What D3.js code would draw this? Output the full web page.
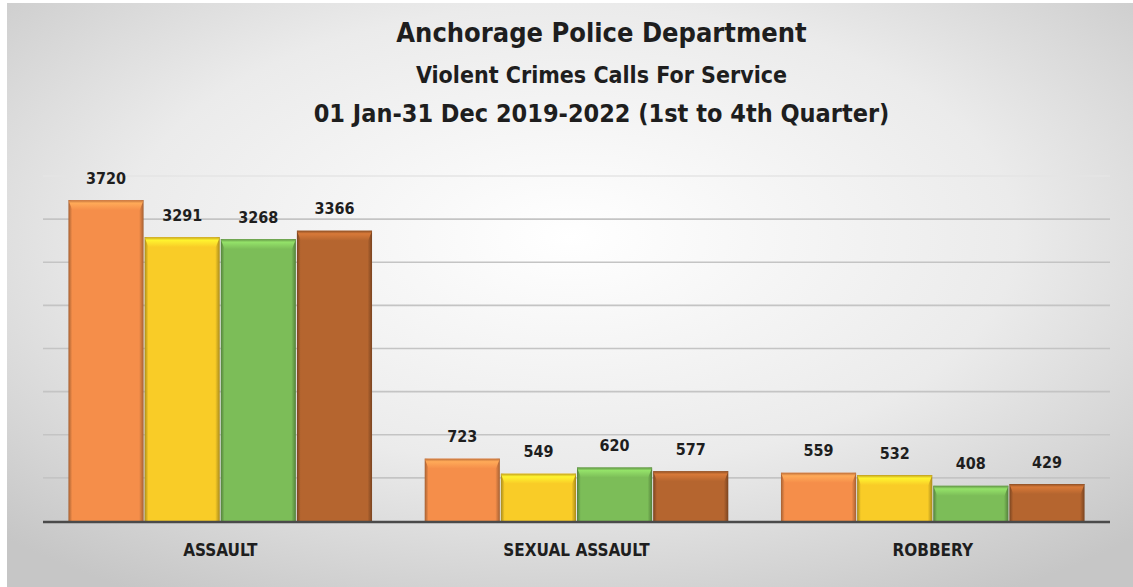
<!DOCTYPE html>
<html>
<head>
<meta charset="utf-8">
<script src="https://cdn.jsdelivr.net/npm/d3@7"></script>
<style>
  html, body { margin: 0; padding: 0; background: #fff; }
  svg { display: block; }
  text { font-family: 'Liberation Sans Narrow', 'Arial Narrow', 'DejaVu Sans Condensed', sans-serif; font-weight: bold; fill: #1e1e1e; }
</style>
</head>
<body>
<div id="chart"></div>
<script>

const categories = ['ASSAULT', 'SEXUAL ASSAULT', 'ROBBERY'];
const years = ['2019', '2020', '2021', '2022'];
const values = {
  'ASSAULT':        [3720, 3291, 3268, 3366],
  'SEXUAL ASSAULT': [723, 549, 620, 577],
  'ROBBERY':        [559, 532, 408, 429]
};
const titleLines = [
  'Anchorage Police Department',
  'Violent Crimes Calls For Service',
  '01 Jan-31 Dec 2019-2022 (1st to 4th Quarter)'
];
const yTicks = [500, 1000, 1500, 2000, 2500, 3000, 3500, 4000];
const colors = ['#f58e4a', '#f9cc27', '#7cbd58', '#b5652f'];

const W = 1133,
      H = 587;

const M = { top: 176, right: 23, bottom: 66, left: 43 };

const svg = d3.select('#chart').append('svg')
  .attr('width', W)
  .attr('height', H);

const defs = svg.append('defs');

// background - light in the middle, grey to the edges
const bg = defs.append('radialGradient')
  .attr('id', 'bg')
  .attr('cx', '50%').attr('cy', '40%').attr('r', '72%');
bg.append('stop').attr('offset', '0%').attr('stop-color', '#ffffff');
bg.append('stop').attr('offset', '55%').attr('stop-color', '#ebebeb');
bg.append('stop').attr('offset', '100%').attr('stop-color', '#c6c6c6');

svg.append('rect')
  .attr('x', 7).attr('y', 3)
  .attr('width', W - 7).attr('height', H - 3)
  .attr('fill', 'url(#bg)');

// bevel gradients per series
colors.forEach((c, i) => {
  const g = defs.append('linearGradient')
    .attr('id', `side-${i}`)
    .attr('x1', 0).attr('x2', 1).attr('y1', 0).attr('y2', 0);
  const dark = d3.color(c).darker(1.1);
  g.append('stop').attr('offset', '0%').attr('stop-color', dark);
  g.append('stop').attr('offset', '5%').attr('stop-color', c);
  g.append('stop').attr('offset', '94%').attr('stop-color', c);
  g.append('stop').attr('offset', '100%').attr('stop-color', dark);

  const t = defs.append('linearGradient')
    .attr('id', `top-${i}`)
    .attr('x1', 0).attr('x2', 0).attr('y1', 0).attr('y2', 1);
  t.append('stop').attr('offset', '0%').attr('stop-color', d3.color(c).darker(0.7));
  t.append('stop').attr('offset', '30%').attr('stop-color', d3.color(c).brighter(0.5));
  t.append('stop').attr('offset', '100%').attr('stop-color', c);
});

// titles
const titleY = [33, 75, 113],
      titleSize = [27, 23, 25];

svg.selectAll('.title')
  .data(titleLines)
  .enter().append('text')
    .attr('class', 'title')
    .attr('x', W / 2 + 35)
    .attr('y', (d, i) => titleY[i])
    .attr('dy', '0.35em')
    .attr('text-anchor', 'middle')
    .style('font-size', (d, i) => `${titleSize[i]}px`)
    .text((d) => d);

const x0 = d3.scaleBand()
  .domain(categories)
  .range([M.left, W - M.right])
  .paddingInner(0.145)
  .paddingOuter(0.07);

const x1 = d3.scaleBand()
  .domain(years)
  .range([0, x0.bandwidth()]);

const y = d3.scaleLinear()
  .domain([0, 4000])
  .range([H - M.bottom, M.top]);

// gridlines
svg.append('g')
  .selectAll('line')
  .data(yTicks)
  .enter().append('line')
    .attr('x1', M.left)
    .attr('x2', W - M.right)
    .attr('y1', (d) => y(d))
    .attr('y2', (d) => y(d))
    .attr('stroke', (d) => d === 4000 ? '#e4e4e4' : '#c4c4c4')
    .attr('stroke-width', 1.6);

const groups = svg.selectAll('.cat')
  .data(categories)
  .enter().append('g')
    .attr('class', 'cat')
    .attr('transform', (d) => `translate(${x0(d)},0)`);

const bars = groups.selectAll('.bar')
  .data((c) => values[c].map((v, i) => ({ cat: c, year: years[i], v, i })))
  .enter().append('g')
    .attr('class', 'bar');

bars.append('rect')
  .attr('x', (d) => x1(d.year) + 0.5)
  .attr('y', (d) => y(d.v))
  .attr('width', x1.bandwidth() - 1)
  .attr('height', (d) => y(0) - y(d.v))
  .attr('fill', (d) => `url(#side-${d.i})`);

// bevelled top edge
bars.append('path')
  .attr('d', (d) => {
    const l = x1(d.year) + 0.5,
          r = l + x1.bandwidth() - 1,
          t = y(d.v),
          b = 10;
    return `M${l},${t}L${r},${t}L${r - 4},${t + b}L${l + 4},${t + b}Z`;
  })
  .attr('fill', (d) => `url(#top-${d.i})`);

bars.append('text')
  .attr('x', (d) => x1(d.year) + x1.bandwidth() / 2)
  .attr('y', (d) => y(d.v) - 22)
  .attr('dy', '0.35em')
  .attr('text-anchor', 'middle')
  .style('font-size', '16px')
  .text((d) => d.v);

// baseline
svg.append('line')
  .attr('x1', M.left)
  .attr('x2', W - M.right)
  .attr('y1', y(0) + 1)
  .attr('y2', y(0) + 1)
  .attr('stroke', '#4a4a4a')
  .attr('stroke-width', 2.5);

// category labels
svg.append('g')
  .selectAll('text')
  .data(categories)
  .enter().append('text')
    .attr('x', (d) => x0(d) + x0.bandwidth() / 2)
    .attr('y', 550)
    .attr('dy', '0.35em')
    .attr('text-anchor', 'middle')
    .style('font-size', '17px')
    .text((d) => d);

</script>
</body>
</html>
